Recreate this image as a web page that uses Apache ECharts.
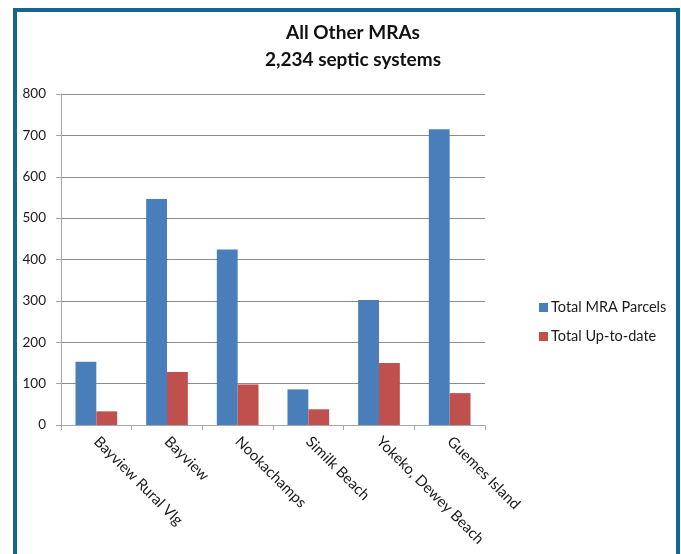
<!DOCTYPE html>
<html>
<head>
<meta charset="utf-8">
<script src="https://cdn.jsdelivr.net/npm/echarts@6/dist/echarts.min.js"></script>
<style>
  html, body { margin: 0; padding: 0; background: #ffffff; }
  #frame {
    position: absolute; left: 13px; top: 8px; width: 659px; height: 560px;
    border: 4px solid #13668f; border-bottom: none;
  }
  #chart { position: absolute; left: 0; top: 0; width: 681px; height: 554px; }
</style>
</head>
<body>
<div id="frame"></div>
<div id="chart"></div>
<script>
const categories = ["Bayview Rural Vlg", "Bayview", "Nookachamps", "Similk Beach", "Yokeko, Dewey Beach", "Guemes Island"];
const totalParcels = [153, 546, 424, 86, 302, 715];
const totalUpToDate = [33, 128, 98, 38, 150, 77];
const yTicks = [0, 100, 200, 300, 400, 500, 600, 700, 800];

const BLUE = "#4a7ebb";
const RED = "#c0504d";
const FONT = "Lato, 'Open Sans', sans-serif";

const chart = echarts.init(document.getElementById("chart"));

const option = {
  backgroundColor: "transparent",
  animation: false,
  title: {
    text: "All Other MRAs\n2,234 septic systems",
    left: 348,
    textAlign: "center",
    top: 14,
    textStyle: { fontFamily: FONT, fontSize: 19, fontWeight: "bold", color: "#111111", lineHeight: 27 },
  },
  legend: {
    orient: "vertical",
    left: 534,
    top: 295,
    itemWidth: 9,
    itemHeight: 9,
    itemGap: 14,
    icon: "rect",
    data: ["Total MRA Parcels", "Total Up-to-date"],
    textStyle: { fontFamily: FONT, fontSize: 14.5, color: "#1a1a1a", padding: [0, 0, 0, -2] },
  },
  grid: { left: 61, right: 196, top: 94, bottom: 129, containLabel: false },
  xAxis: {
    type: "category",
    data: categories,
    boundaryGap: true,
    axisLine: { show: true, lineStyle: { color: "#a6a6a6", width: 1 } },
    axisTick: { show: true, length: 5, alignWithLabel: false, lineStyle: { color: "#a6a6a6" } },
    axisLabel: {
      rotate: -45,
      interval: 0,
      margin: 14,
      fontFamily: FONT,
      fontSize: 15,
      color: "#1a1a1a",
    },
  },
  yAxis: {
    type: "value",
    min: yTicks[0],
    max: yTicks[yTicks.length - 1],
    interval: 100,
    axisLine: { show: true, lineStyle: { color: "#a6a6a6", width: 1 } },
    axisTick: { show: true, length: 5, lineStyle: { color: "#a6a6a6" } },
    axisLabel: { margin: 15, fontFamily: FONT, fontSize: 13.5, color: "#1a1a1a" },
    splitLine: { show: true, lineStyle: { color: "#8c8c8c", width: 1 } },
  },
  series: [
    {
      name: "Total MRA Parcels",
      type: "bar",
      data: totalParcels,
      barGap: "0%",
      barCategoryGap: "41%",
      itemStyle: { color: BLUE },
    },
    {
      name: "Total Up-to-date",
      type: "bar",
      data: totalUpToDate,
      barGap: "0%",
      barCategoryGap: "41%",
      itemStyle: { color: RED },
    },
  ],
};

chart.setOption(option);
</script>
</body>
</html>
